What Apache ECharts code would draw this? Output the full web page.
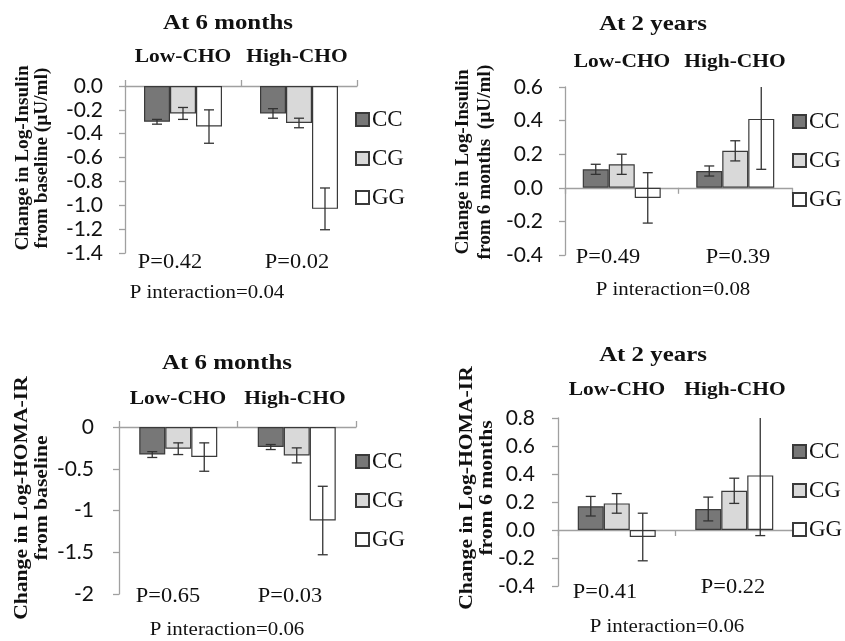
<!DOCTYPE html>
<html><head><meta charset="utf-8">
<script src="https://cdn.jsdelivr.net/npm/echarts@6/dist/echarts.min.js"></script>
<style>html,body{margin:0;padding:0;background:#fff}#c{width:845px;height:641px}</style>
</head><body><div id="c"></div>
<script>
// ---------- data ----------
const categories = ['Low-CHO', 'High-CHO'];
const genotypes = ['CC', 'CG', 'GG'];

// Panel A: insulin, at 6 months (change from baseline)
const ins6_CC = [-0.30, -0.23], ins6_CC_err = [0.02, 0.04];
const ins6_CG = [-0.23, -0.31], ins6_CG_err = [0.05, 0.04];
const ins6_GG = [-0.34, -1.03], ins6_GG_err = [0.14, 0.175];
const ins6_P = ['P=0.42', 'P=0.02'], ins6_Pint = 'P interaction=0.04';
const ins6_ticks = [-1.4, 0, 0.2];

// Panel B: insulin, at 2 years (change from 6 months)
const ins2_CC = [0.11, 0.10], ins2_CC_err = [0.03, 0.03];
const ins2_CG = [0.14, 0.22], ins2_CG_err = [0.06, 0.06];
const ins2_GG = [-0.06, 0.41], ins2_GG_err = [0.15, 0.30];
const ins2_P = ['P=0.49', 'P=0.39'], ins2_Pint = 'P interaction=0.08';
const ins2_ticks = [-0.4, 0.6, 0.2];

// Panel C: HOMA-IR, at 6 months
const homa6_CC = [-0.33, -0.24], homa6_CC_err = [0.035, 0.03];
const homa6_CG = [-0.26, -0.34], homa6_CG_err = [0.07, 0.09];
const homa6_GG = [-0.36, -1.12], homa6_GG_err = [0.17, 0.41];
const homa6_P = ['P=0.65', 'P=0.03'], homa6_Pint = 'P interaction=0.06';
const homa6_ticks = [-2, 0, 0.5];

// Panel D: HOMA-IR, at 2 years
const homa2_CC = [0.17, 0.15], homa2_CC_err = [0.07, 0.085];
const homa2_CG = [0.19, 0.28], homa2_CG_err = [0.07, 0.09];
const homa2_GG = [-0.05, 0.39], homa2_GG_err = [0.17, 0.43];
const homa2_P = ['P=0.41', 'P=0.22'], homa2_Pint = 'P interaction=0.06';
const homa2_ticks = [-0.4, 0.8, 0.2];

// ---------- layout / style ----------
const SERIF = '"Liberation Serif","Times New Roman",serif';
const SANS = 'Lato, "Liberation Sans", sans-serif';
const fills = {CC: '#777777', CG: '#d9d9d9', GG: '#ffffff'};
const BAR_W = 26;

const panels = [
  {title: 'At 6 months', yname: ['Change in Log-Insulin', 'from baseline (\u00b5U/ml)'], ynS: 1.07,
   vals: [ins6_CC, ins6_CG, ins6_GG], errs: [ins6_CC_err, ins6_CG_err, ins6_GG_err],
   P: ins6_P, Pint: ins6_Pint, ticks: ins6_ticks, dec: 1, lm: 22,
   grid: {left: 125, top: 86, width: 232, height: 167}, xTop: true,
   titleXY: [228, 23], catY: 57, catX: [183, 297], pXY: [[170, 263], [297, 263]], pintXY: [207, 293],
   ynX: [23, 42], ynY: 158, legXY: [350, 103]},
  {title: 'At 2 years', yname: ['Change in Log-Insulin', 'from 6 months  (\u00b5U/ml)'], ynS: 1.07,
   vals: [ins2_CC, ins2_CG, ins2_GG], errs: [ins2_CC_err, ins2_CG_err, ins2_GG_err],
   P: ins2_P, Pint: ins2_Pint, ticks: ins2_ticks, dec: 1, lm: 22,
   grid: {left: 565, top: 87, width: 227, height: 168}, xTop: false,
   titleXY: [653, 24], catY: 62, catX: [622, 735], pXY: [[608, 258], [738, 258]], pintXY: [673, 290],
   ynX: [463, 485], ynY: 162, legXY: [787, 105]},
  {title: 'At 6 months', yname: ['Change in Log-HOMA-IR', 'from baseline'], ynS: 1.2,
   vals: [homa6_CC, homa6_CG, homa6_GG], errs: [homa6_CC_err, homa6_CG_err, homa6_GG_err],
   P: homa6_P, Pint: homa6_Pint, ticks: homa6_ticks, dec: null, lm: 25,
   grid: {left: 119, top: 427, width: 237, height: 167}, xTop: true,
   titleXY: [227, 363], catY: 399, catX: [178, 295], pXY: [[168, 597], [290, 597]], pintXY: [227, 630],
   ynX: [22, 42], ynY: 498, legXY: [350, 445]},
  {title: 'At 2 years', yname: ['Change in Log-HOMA-IR', 'from 6 months'], ynS: 1.2,
   vals: [homa2_CC, homa2_CG, homa2_GG], errs: [homa2_CC_err, homa2_CG_err, homa2_GG_err],
   P: homa2_P, Pint: homa2_Pint, ticks: homa2_ticks, dec: 1, lm: 23,
   grid: {left: 558, top: 418, width: 235, height: 168}, xTop: false,
   titleXY: [653, 355], catY: 390, catX: [617, 735], pXY: [[605, 593], [733, 588]], pintXY: [667, 627],
   ynX: [467, 487], ynY: 488, legXY: [787, 435]}
];

function errRenderer(sIdx, yMin, yMax) {
  return function (params, api) {
    const cat = api.value(0), v = api.value(1), e = api.value(2);
    const x = api.coord([cat, v])[0] + (sIdx - 1) * BAR_W;
    const hiV = Math.min(v + e, yMax), loV = Math.max(v - e, yMin);
    const yHi = api.coord([cat, hiV])[1], yLo = api.coord([cat, loV])[1];
    const st = {stroke: '#333', lineWidth: 1.3};
    const ch = [{type: 'line', shape: {x1: x, y1: yHi, x2: x, y2: yLo}, style: st}];
    const cw = 5;
    if (v + e <= yMax) ch.push({type: 'line', shape: {x1: x - cw, y1: yHi, x2: x + cw, y2: yHi}, style: st});
    if (v - e >= yMin) ch.push({type: 'line', shape: {x1: x - cw, y1: yLo, x2: x + cw, y2: yLo}, style: st});
    return {type: 'group', children: ch};
  };
}

const grid = [], xAxis = [], yAxis = [], series = [], legend = [], graphic = [];
const txt = (x, y, text, font, sx, rot) => ({type: 'text', x, y, rotation: rot || 0, scaleX: sx || 1, silent: true,
  style: {text, font, fill: '#111', textAlign: 'center', textVerticalAlign: 'middle'}});

panels.forEach((p, i) => {
  grid.push(p.grid);
  xAxis.push({type: 'category', gridIndex: i, data: categories, position: p.xTop ? 'top' : 'bottom',
    axisLine: {onZero: true, lineStyle: {color: '#a0a0a0', width: 1.3}},
    axisTick: {show: true, length: 6, lineStyle: {color: '#a0a0a0', width: 1.3}},
    axisLabel: {show: false}, splitLine: {show: false}});
  const [mn, mx, iv] = p.ticks;
  yAxis.push({type: 'value', gridIndex: i, min: mn, max: mx, interval: iv,
    axisLine: {show: true, lineStyle: {color: '#a0a0a0', width: 1.3}},
    axisTick: {show: true, length: 6, lineStyle: {color: '#a0a0a0', width: 1.3}},
    splitLine: {show: false},
    axisLabel: {margin: p.lm, color: '#111', fontFamily: SANS, fontSize: 21,
      formatter: v => p.dec == null ? String(+v.toFixed(2)) : v.toFixed(p.dec)}});
  genotypes.forEach((g, s) => {
    series.push({type: 'bar', name: g, xAxisIndex: i, yAxisIndex: i, data: p.vals[s],
      barWidth: BAR_W, barGap: '0%', z: 2,
      itemStyle: {color: fills[g], borderColor: '#3a3a3a', borderWidth: 1.2},
      emphasis: {disabled: true}});
  });
  genotypes.forEach((g, s) => {
    series.push({type: 'custom', name: g + ' error', xAxisIndex: i, yAxisIndex: i, z: 5,
      data: p.vals[s].map((v, k) => [k, v, p.errs[s][k]]),
      encode: {x: 0, y: 1}, renderItem: errRenderer(s, mn, mx), silent: true});
  });
  legend.push({data: genotypes, orient: 'vertical', left: p.legXY[0], top: p.legXY[1],
    icon: 'rect', itemWidth: 13, itemHeight: 13, itemGap: 16, selectedMode: false,
    textStyle: {fontFamily: SERIF, fontSize: 23, color: '#111', padding: [0, 0, 0, -2]}});
  graphic.push(txt(p.titleXY[0], p.titleXY[1], p.title, 'bold 22px ' + SERIF, 1.13));
  categories.forEach((c, k) => graphic.push(txt(p.catX[k], p.catY, c, 'bold 19px ' + SERIF, 1.13)));
  p.P.forEach((t, k) => graphic.push(txt(p.pXY[k][0], p.pXY[k][1], t, '20px ' + SERIF, 1.12)));
  graphic.push(txt(p.pintXY[0], p.pintXY[1], p.Pint, '19px ' + SERIF, 1.1));
  p.yname.forEach((t, k) => graphic.push(txt(p.ynX[k], p.ynY, t, 'bold 18px ' + SERIF, p.ynS, Math.PI / 2)));
});

const chart = echarts.init(document.getElementById('c'), null, {renderer: 'canvas'});
chart.setOption({animation: false, backgroundColor: '#fff', grid, xAxis, yAxis, series, legend, graphic,
  tooltip: {show: false}});
</script></body></html>
